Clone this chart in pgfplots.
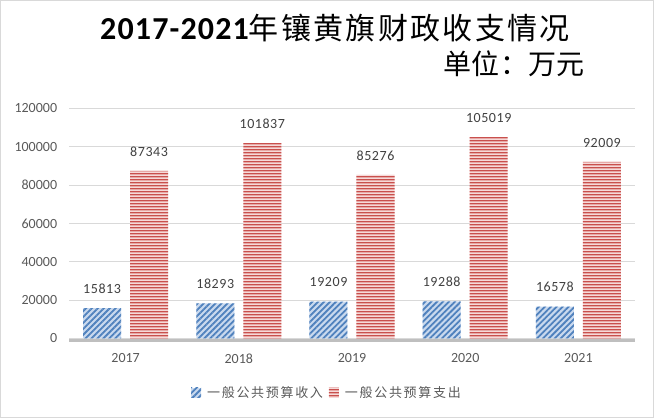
\documentclass[border=0pt]{standalone}
\usepackage{fontspec}
\setmainfont{Carlito}
\newfontfamily\cjktitle{Noto Sans CJK SC}[LetterSpace=7.7]
\newfontfamily\cjksub{Noto Sans CJK SC}[LetterSpace=1]
\newfontfamily\cjkleg{Noto Sans CJK SC}[LetterSpace=13]
\newfontfamily\numtitle{Carlito}[LetterSpace=3.6]
\newfontfamily\numlab{Carlito}[LetterSpace=4]
\usepackage{pgfplots}
\usepackage{pgfplotstable}
\pgfplotsset{compat=1.18}
\usetikzlibrary{patterns.meta}
\definecolor{bfill}{HTML}{C9D9EE}
\definecolor{bline}{HTML}{4F81BD}
\definecolor{rfill}{HTML}{F6DAD9}
\definecolor{rline}{HTML}{C9504D}
\definecolor{gridc}{HTML}{D9D9D9}
\definecolor{tickc}{HTML}{595959}
\definecolor{labc}{HTML}{404040}
\definecolor{basec}{HTML}{BFBFBF}

\pgfdeclarepatternformonly{widehl}{\pgfqpoint{0pt}{0pt}}{\pgfqpoint{700pt}{2.7pt}}{\pgfqpoint{700pt}{2.7pt}}{%
  \pgfsetlinewidth{1.3pt}%
  \pgfpathmoveto{\pgfqpoint{0pt}{1.35pt}}%
  \pgfpathlineto{\pgfqpoint{700pt}{1.35pt}}%
  \pgfusepath{stroke}}

\pgfplotstableread{
x inc exp
0 15813 87343
1 18293 101837
2 19209 85276
3 19288 105019
4 16578 92009
}\data

\begin{document}
\begin{tikzpicture}[x=1pt,y=1pt]
\draw[gridc, line width=1pt] (0.5,0.5) rectangle (653.5,417.5);
\node[anchor=base west, inner sep=0pt] at (100,378) {\numtitle\bfseries\fontsize{32}{32}\selectfont 2017-2021{\cjktitle\mdseries\fontsize{30}{30}\selectfont 年镶黄旗财政收支情况}};
\node[anchor=base west, inner sep=0pt] at (443.5,343.3) {\cjksub\fontsize{28}{28}\selectfont 单位：万元};
\begin{axis}[
  at={(69pt,79.5pt)}, anchor=south west,
  scale only axis, width=566pt, height=230.2pt,
  xmin=-0.5, xmax=4.5, ymin=0, ymax=120000,
  ybar, bar width=38pt,
  clip=false,
  axis line style={draw=none},
  major tick length=0pt,
  xtick={0,...,4}, xticklabels={2017,2018,2019,2020,2021},
  ytick={0,20000,...,120000},
  scaled y ticks=false,
  ymajorgrids, grid style={gridc, line width=1pt},
  /pgf/number format/assume math mode=true,
  /pgf/number format/fixed,
  /pgf/number format/precision=0,
  /pgf/number format/1000 sep={},
  tick label style={font=\fontsize{14}{14}\selectfont, text=tickc, inner sep=0pt},
  yticklabel style={/pgf/number format/fixed, /pgf/number format/precision=0, /pgf/number format/1000 sep={}},
  yticklabel shift=11.7pt,
  xticklabel shift=14.8pt,
  nodes near coords,
  every node near coord/.append style={font=\numlab\fontsize{14}{14}\selectfont, text=labc, inner sep=0pt, anchor=south, yshift=14.5pt, /pgf/number format/fixed, /pgf/number format/precision=0, /pgf/number format/1000 sep={}},
  legend image code/.code={\draw[#1,draw=none] (0pt,-5pt) rectangle (10pt,5pt);},
  legend style={at={(0.454,-0.2355)}, anchor=center, draw=none, fill=none, legend columns=2, column sep=6pt, inner sep=0pt, nodes={inner sep=0pt, text=tickc, font=\cjkleg\fontsize{13}{13}\selectfont}},
]
\draw[basec, line width=3.4pt] ([yshift=-1.8pt]axis cs:-0.5,0) -- ([yshift=-1.8pt]axis cs:4.5,0);
\addplot[fill=bfill, draw=none, postaction={pattern={Lines[angle=45,distance=4.2pt,line width=1.8pt]}, pattern color=bline}, bar shift=-23.5pt] table[x=x,y=inc]{\data};
\addplot[fill=rfill, draw=none, postaction={pattern=widehl, pattern color=rline}, bar shift=23.5pt] table[x=x,y=exp]{\data};
\legend{一般公共预算收入,一般公共预算支出}
\end{axis}
\end{tikzpicture}
\end{document}
